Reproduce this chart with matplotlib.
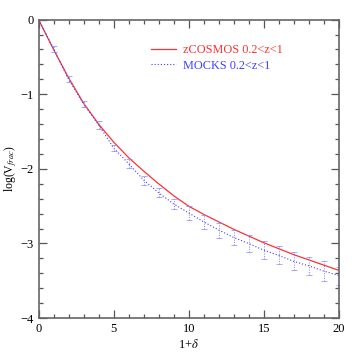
import matplotlib
matplotlib.use("Agg")
import matplotlib.pyplot as plt
from matplotlib.ticker import MultipleLocator

# data
x_red = [0, 1, 2, 3, 4, 5, 6, 7, 8, 9, 10, 11, 12, 13, 14, 15, 16, 17, 18, 19, 20]
y_red = [0.0, -0.40, -0.78, -1.12, -1.40, -1.64, -1.85, -2.03, -2.20, -2.36, -2.50,
         -2.61, -2.71, -2.81, -2.90, -2.99, -3.07, -3.15, -3.22, -3.29, -3.36]
x_blue = [0, 1, 2, 3, 4, 5, 6, 7, 8, 9, 10, 11, 12, 13, 14, 15, 16, 17, 18, 19, 20]
y_blue = [0.0, -0.39, -0.80, -1.13, -1.41, -1.72, -1.93, -2.15, -2.32, -2.47, -2.59,
          -2.71, -2.82, -2.92, -3.00, -3.09, -3.16, -3.24, -3.30, -3.37, -3.43]
err_blue = [0.0, 0.04, 0.04, 0.04, 0.05, 0.04, 0.06, 0.06, 0.06, 0.07, 0.09,
            0.095, 0.10, 0.10, 0.11, 0.12, 0.12, 0.12, 0.12, 0.13, 0.12]

plt.rcParams['font.family'] = ['Liberation Serif', 'DejaVu Serif']
plt.rcParams['mathtext.fontset'] = 'stix'

fig = plt.figure(figsize=(3.57, 3.57), dpi=100)
ax = fig.add_axes([0.108, 0.109, 0.841, 0.836])

red = '#ff3030'
blue = '#4040ff'
eblue = '#8080ff'
ax.plot(x_red, y_red, color=red, lw=0.9, label='zCOSMOS 0.2<z<1')
ax.plot(x_blue, y_blue, color=blue, lw=0.8, ls=(0, (1, 1.8)), label='MOCKS 0.2<z<1')
eb = ax.errorbar(x_blue[1:], y_blue[1:], yerr=err_blue[1:], fmt='none', ecolor=eblue,
                 elinewidth=0.7, capsize=2.2, capthick=0.6)
for lc in eb[2]:
    lc.set_linestyle((0, (1, 1.5)))
for cl in eb[1]:
    cl.set_alpha(0.8)

ax.set_xlim(0, 20)
ax.set_ylim(-4, 0)
ax.xaxis.set_major_locator(MultipleLocator(5))
ax.xaxis.set_minor_locator(MultipleLocator(1))
ax.yaxis.set_major_locator(MultipleLocator(1))
ax.yaxis.set_minor_locator(MultipleLocator(0.2))
ax.tick_params(which='both', direction='in', top=True, right=True, colors='#555555',
               labelcolor='black', labelsize=9, width=0.9)
ax.tick_params(which='major', length=6)
ax.tick_params(which='minor', length=3)
for s in ax.spines.values():
    s.set_color('#666666')
    s.set_linewidth(1.2)

ax.set_xlabel(r'1+$\delta$', fontsize=9, labelpad=2)
ax.set_ylabel(r'log(V$_{frac}$)', fontsize=8.5, labelpad=1)

leg = ax.legend(loc='upper right', bbox_to_anchor=(0.85, 0.955), frameon=False,
                fontsize=8.8, handlelength=2.0, handletextpad=0.6, labelspacing=0.3,
                labelcolor=[red, blue])

fig.savefig('out.png', dpi=100)
